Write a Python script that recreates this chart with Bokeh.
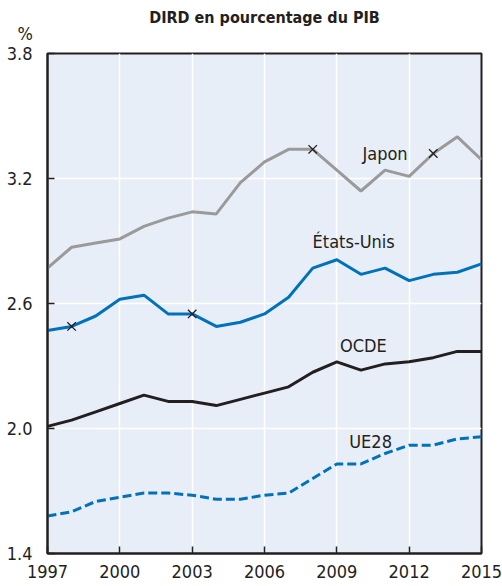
from bokeh.plotting import figure
from bokeh.models import Range1d, FixedTicker, Title, ColumnDataSource
from bokeh.core.properties import value
from bokeh.embed import file_html
from bokeh.resources import INLINE

years = list(range(1997, 2016))
japon = [2.77, 2.87, 2.89, 2.91, 2.97, 3.01, 3.04, 3.03, 3.18, 3.28, 3.34, 3.34, 3.24, 3.14, 3.24, 3.21, 3.32, 3.40, 3.29]
etats_unis = [2.47, 2.49, 2.54, 2.62, 2.64, 2.55, 2.55, 2.49, 2.51, 2.55, 2.63, 2.77, 2.81, 2.74, 2.77, 2.71, 2.74, 2.75, 2.79]
ocde = [2.01, 2.04, 2.08, 2.12, 2.16, 2.13, 2.13, 2.11, 2.14, 2.17, 2.20, 2.27, 2.32, 2.28, 2.31, 2.32, 2.34, 2.37, 2.37]
ue28 = [1.58, 1.60, 1.65, 1.67, 1.69, 1.69, 1.68, 1.66, 1.66, 1.68, 1.69, 1.76, 1.83, 1.83, 1.88, 1.92, 1.92, 1.95, 1.96]

x_ticks = [1997, 2000, 2003, 2006, 2009, 2012, 2015]
y_ticks = [1.4, 2.0, 2.6, 3.2, 3.8]

jp_marker_years = [2008, 2013]
us_marker_years = [1998, 2003]

label_names = ["Japon", "États-Unis", "OCDE", "UE28"]
label_x = [2011.0, 2009.7, 2010.1, 2010.4]
label_y = [3.32, 2.90, 2.40, 1.94]

FONT = "'DejaVu Sans Condensed', 'Liberation Sans Narrow', Roboto"
TXT = "#231f20"
BLUE = "#0072bc"
GRAY = "#9a9a9a"

p = figure(width=502, height=586, output_backend="svg", toolbar_location=None,
           x_range=Range1d(1997, 2015), y_range=Range1d(1.4, 3.8),
           min_border_left=47, min_border_right=21, min_border_bottom=33, min_border_top=53)

pct = Title(text="%", align="left", offset=-30, text_font=FONT, text_font_size="18px",
            text_font_style="normal", text_color=TXT, standoff=19)
p.add_layout(pct, "above")
main = Title(text="DIRD en pourcentage du PIB", align="center", text_font=FONT,
             text_font_size="16px", text_font_style="bold", text_color=TXT, standoff=-30)
p.add_layout(main, "above")

p.background_fill_color = "#e8eef7"
p.border_fill_color = "white"
p.outline_line_color = "#231f20"
p.outline_line_width = 2

p.xaxis.ticker = FixedTicker(ticks=x_ticks)
p.yaxis.ticker = FixedTicker(ticks=y_ticks)
p.yaxis.major_label_overrides = {t: f"{t:.1f}" for t in y_ticks}
for ax in (p.xaxis, p.yaxis):
    ax.major_tick_in = 7
    ax.major_tick_out = 0
    ax.minor_tick_in = 0
    ax.minor_tick_out = 0
    ax.axis_line_color = "#231f20"
    ax.axis_line_width = 2
    ax.major_tick_line_color = "#231f20"
    ax.major_tick_line_width = 1.5
    ax.major_label_text_font = FONT
    ax.major_label_text_font_size = "18px"
    ax.major_label_text_color = TXT
p.xaxis.major_label_standoff = 11
p.yaxis.major_label_standoff = 15

p.xgrid.ticker = FixedTicker(ticks=x_ticks)
p.ygrid.ticker = FixedTicker(ticks=y_ticks)
p.grid.grid_line_color = "white"
p.grid.grid_line_width = 1.5

p.line(years, japon, line_color=GRAY, line_width=3)
p.line(years, etats_unis, line_color=BLUE, line_width=3)
p.line(years, ocde, line_color="#231f20", line_width=3)
p.line(years, ue28, line_color=BLUE, line_width=3, line_dash="9 4")

jp_my = [japon[years.index(y)] for y in jp_marker_years]
us_my = [etats_unis[years.index(y)] for y in us_marker_years]
p.scatter(jp_marker_years, jp_my, marker="x", size=12, line_color="#231f20", line_width=1.3)
p.scatter(us_marker_years, us_my, marker="x", size=12, line_color="#231f20", line_width=1.3)

src = ColumnDataSource(dict(x=label_x, y=label_y, t=label_names))
p.text(x="x", y="y", text="t", source=src, text_font=value(FONT), text_font_size="18px",
       text_color=TXT, text_align="center", text_baseline="middle")

open("out.html", "w").write(file_html(p, INLINE))
